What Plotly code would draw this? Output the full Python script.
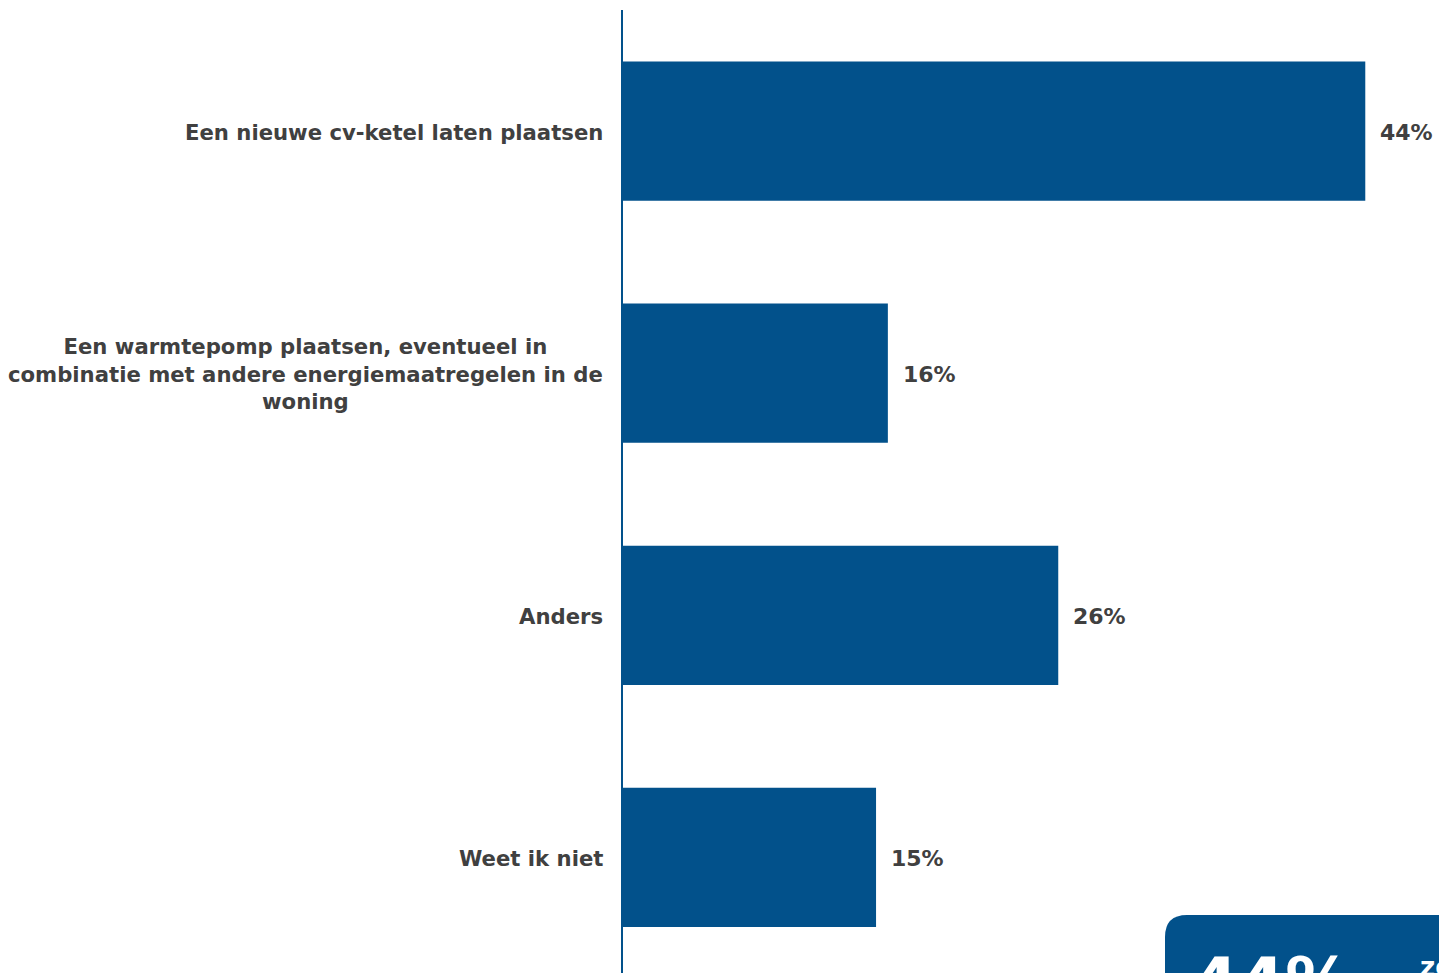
import plotly.graph_objects as go

categories = [
    "Een nieuwe cv-ketel laten plaatsen",
    "Een warmtepomp plaatsen, eventueel in<br>combinatie met andere energiemaatregelen in de<br>woning",
    "Anders",
    "Weet ik niet",
]
values = [44.0, 15.7, 25.8, 15.0]
labels = ["44%", "16%", "26%", "15%"]

BLUE = "#02518b"
TXT = "#404040"
FONT = "DejaVu Sans"

W, H = 1439, 973
L, R, T, B = 623, 0, 10, 0
PW, PH = W - L - R, H - T - B


def px(xp):
    return (xp - L) / PW


def py(yp):
    return (H - B - yp) / PH


fig = go.Figure()
fig.add_trace(go.Bar(
    y=list(range(len(categories))), x=values, orientation="h",
    marker=dict(color=BLUE, line=dict(width=0)), width=0.575,
    hoverinfo="skip",
))

for i, (v, lab) in enumerate(zip(values, labels)):
    fig.add_annotation(x=v, y=i, text=f"<b>{lab}</b>", showarrow=False, xanchor="left",
                       xshift=13, yshift=-1, font=dict(family=FONT, size=22, color=TXT))

for i, c in enumerate(categories):
    fig.add_annotation(x=0, y=i, text=f"<b>{c}</b>", showarrow=False, xanchor="right",
                       align="center", xshift=-18, yshift=-1,
                       font=dict(family=FONT, size=21.2, color=TXT))

# rounded box bottom-right
x0, y0 = px(1165), py(915)
x1, y1 = px(1460), py(1000)
rx, ry = 22 / PW, 22 / PH
path = (f"M {x0},{y1} L {x0},{y0 - ry} Q {x0},{y0} {x0 + rx},{y0} "
        f"L {x1},{y0} L {x1},{y1} Z")
fig.add_shape(type="path", path=path, xref="paper", yref="paper",
              fillcolor=BLUE, line=dict(width=0), layer="above")
fig.add_annotation(x=px(1190), y=py(942), xref="paper", yref="paper", text="<b>44%</b>",
                   showarrow=False, xanchor="left", yanchor="top",
                   font=dict(family=FONT, size=67, color="white"))
fig.add_annotation(x=px(1418), y=py(950), xref="paper", yref="paper", text="<b>zegt</b>",
                   showarrow=False, xanchor="left", yanchor="top",
                   font=dict(family=FONT, size=26, color="white"))

fig.update_layout(
    width=W, height=H,
    margin=dict(l=L, r=R, t=T, b=B, pad=0),
    paper_bgcolor="white", plot_bgcolor="white",
    showlegend=False,
    font=dict(family=FONT, color=TXT),
    xaxis=dict(range=[0, PW / 16.87], visible=False, fixedrange=True),
    yaxis=dict(
        range=[3.5 - (978.5 - 973) / 242, -0.5],
        showticklabels=False, ticks="",
        showline=True, linecolor=BLUE, linewidth=2,
        showgrid=False, zeroline=False, fixedrange=True,
    ),
)

fig.write_html("out.html", config={"displayModeBar": False},
               post_script="document.body.style.margin='0';document.body.style.overflow='hidden';")
